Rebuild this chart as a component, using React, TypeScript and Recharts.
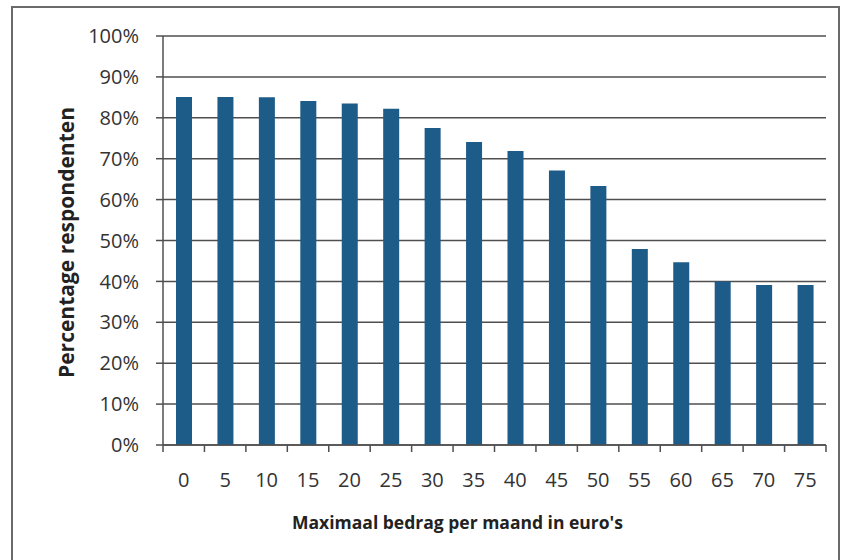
import { Bar, BarChart, CartesianGrid, XAxis, YAxis } from "recharts";

const bedragen = ["0", "5", "10", "15", "20", "25", "30", "35", "40", "45", "50", "55", "60", "65", "70", "75"];
const percentages = [85.1, 85.1, 85.0, 84.1, 83.5, 82.2, 77.5, 74.1, 71.9, 67.1, 63.3, 47.9, 44.7, 40.0, 39.1, 39.1];
const yTicks = [0, 10, 20, 30, 40, 50, 60, 70, 80, 90, 100];

const data = bedragen.map((bedrag, i) => ({ bedrag, pct: percentages[i] }));

const font = "'Open Sans', sans-serif";
const barColor = "#1d5b88";
const lineColor = "#4f4f4f";

function XTick(props: any) {
  const { x, y, payload, index } = props;
  const half = payload?.offset || 20.7;
  return (
    <g>
      <line x1={x - half} x2={x - half} y1={y} y2={y + 7} stroke={lineColor} strokeWidth={1.5} />
      {index === bedragen.length - 1 && (
        <line x1={x + half} x2={x + half} y1={y} y2={y + 7} stroke={lineColor} strokeWidth={1.5} />
      )}
      <text x={x} y={y + 42} textAnchor="middle" fill="#333" fontSize={20} fontFamily={font}>
        {payload.value}
      </text>
    </g>
  );
}

export default function App() {
  return (
    <div style={{ position: "absolute", left: 0, top: 0, width: 841, height: 560, overflow: "hidden", background: "#fff" }}>
      <div
        style={{
          position: "absolute",
          left: 11,
          top: 6,
          width: 825,
          height: 600,
          border: "2px solid #6a6a6a",
        }}
      />
      <BarChart
        width={841}
        height={560}
        data={data}
        margin={{ top: 36, right: 15, left: 103, bottom: 55 }}
        barSize={16}
        style={{ position: "absolute", left: 0, top: 0 }}
      >
        <CartesianGrid vertical={false} stroke={lineColor} strokeWidth={1.5} />
        <XAxis
          dataKey="bedrag"
          height={60}
          tickSize={0}
          tickMargin={0}
          tickLine={false}
          interval={0}
          axisLine={{ stroke: lineColor, strokeWidth: 1.5 }}
          tick={<XTick />}
          label={{
            content: ({ viewBox }: any) => (
              <text
                x={viewBox.x + viewBox.width / 2 - 37}
                y={viewBox.y + 84}
                textAnchor="middle"
                fill="#222"
                fontSize={17.5}
                fontWeight={700}
                fontFamily={font}
              >
                Maximaal bedrag per maand in euro's
              </text>
            ),
          }}
        />
        <YAxis
          width={60}
          domain={[0, 100]}
          ticks={yTicks}
          interval={0}
          tickFormatter={(v) => `${v}%`}
          tickSize={7}
          tickMargin={17}
          tickLine={{ stroke: lineColor, strokeWidth: 1.5 }}
          axisLine={{ stroke: lineColor, strokeWidth: 1.5 }}
          tick={{ fill: "#333", fontSize: 20, fontFamily: font }}
          label={{
            content: ({ viewBox }: any) => {
              const cx = viewBox.x - 37;
              const cy = viewBox.y + viewBox.height / 2 + 2;
              return (
                <text
                  x={cx}
                  y={cy}
                  transform={`rotate(-90 ${cx} ${cy})`}
                  textAnchor="middle"
                  dominantBaseline="central"
                  fill="#222"
                  fontSize={21}
                  fontWeight={700}
                  fontFamily={font}
                >
                  Percentage respondenten
                </text>
              );
            },
          }}
        />
        <Bar dataKey="pct" fill={barColor} isAnimationActive={false} />
      </BarChart>
    </div>
  );
}
